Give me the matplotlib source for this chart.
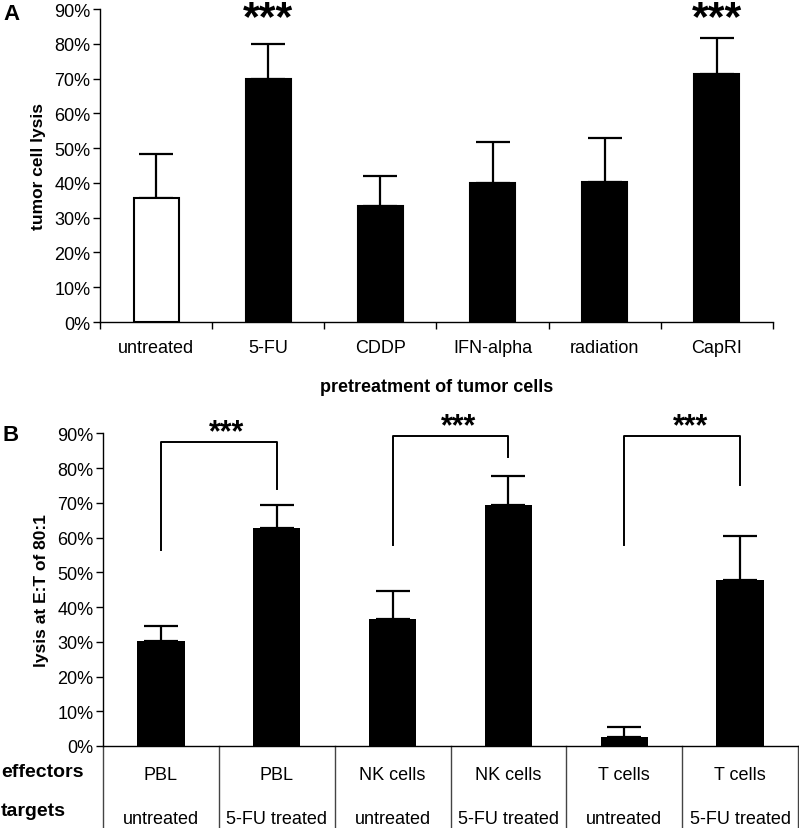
import matplotlib
matplotlib.use('Agg')
import matplotlib.pyplot as plt
import numpy as np

plt.rcParams['font.family'] = ['Liberation Sans', 'DejaVu Sans']

# panel A data
a_labels = ['untreated', '5-FU', 'CDDP', 'IFN-alpha', 'radiation', 'CapRI']
a_vals = [0.357, 0.698, 0.334, 0.399, 0.402, 0.713]
a_err = [0.127, 0.102, 0.086, 0.119, 0.127, 0.105]
a_colors = ['white', 'black', 'black', 'black', 'black', 'black']
a_sig = [1, 5]

# panel B data
b_effectors = ['PBL', 'PBL', 'NK cells', 'NK cells', 'T cells', 'T cells']
b_targets = ['untreated', '5-FU treated', 'untreated', '5-FU treated', 'untreated', '5-FU treated']
b_vals = [0.301, 0.626, 0.365, 0.694, 0.026, 0.478]
b_err = [0.043, 0.068, 0.082, 0.083, 0.028, 0.127]
# brackets: (left idx, right idx, top, left leg end, right leg end)
b_brackets = [(0, 1, 0.876, 0.564, 0.74), (2, 3, 0.891, 0.579, 0.832), (4, 5, 0.891, 0.579, 0.751)]

W, H = 799, 829
fig = plt.figure(figsize=(W / 100, H / 100), dpi=100)

pct = ['0%', '10%', '20%', '30%', '40%', '50%', '60%', '70%', '80%', '90%']
yt = np.arange(0, 0.91, 0.1)

# ---------- A ----------
axA = fig.add_axes([100 / W, 1 - 323 / H, 673 / W, 313 / H])
x = np.arange(len(a_labels))
axA.bar(x, a_vals, width=0.4, color=a_colors, edgecolor='black', linewidth=1.5, zorder=2)
axA.errorbar(x, a_vals, yerr=[np.zeros(len(x)), a_err], fmt='none', ecolor='black',
             elinewidth=1.6, capsize=12, capthick=1.6, zorder=1)
for i in a_sig:
    axA.text(i, 0.875, '***', ha='center', va='center', fontsize=31, fontweight='bold')
axA.set_xlim(-0.5, 5.5)
axA.set_ylim(0, 0.9)
axA.set_yticks(yt)
axA.set_yticklabels(pct, fontsize=13)
axA.set_xticks(np.arange(-0.5, 6, 1))
axA.set_xticklabels([])
axA.set_xticks(x, minor=True)
axA.set_xticklabels(a_labels, minor=True, fontsize=13)
axA.tick_params(axis='x', which='minor', length=0, pad=12)
axA.tick_params(axis='x', which='major', length=5, width=1)
axA.tick_params(axis='y', length=5, width=1, pad=2)
for s in ['top', 'right']:
    axA.spines[s].set_visible(False)
axA.spines['left'].set_linewidth(1)
axA.spines['bottom'].set_linewidth(1)
axA.set_ylabel('tumor cell lysis', fontsize=12.5, fontweight='bold', labelpad=6)
axA.set_xlabel('pretreatment of tumor cells', fontsize=13, fontweight='bold', labelpad=16)

# ---------- B ----------
axB = fig.add_axes([103 / W, 1 - 747 / H, 695 / W, 312.7 / H])
xb = np.arange(len(b_vals))
axB.bar(xb, b_vals, width=0.41, color='black', zorder=2)
axB.errorbar(xb, b_vals, yerr=[np.zeros(len(xb)), b_err], fmt='none', ecolor='black',
             elinewidth=1.6, capsize=12, capthick=1.6, zorder=1)
for l, r, top, ly, ry in b_brackets:
    axB.plot([l, l, r, r], [ly, top, top, ry], color='black', lw=1.4, clip_on=False)
    axB.text((l + r) / 2 + 0.07, top + 0.028, '***', ha='center', va='center',
             fontsize=22, fontweight='bold', clip_on=False)
axB.set_xlim(-0.5, 5.5)
axB.set_ylim(0, 0.9)
axB.set_yticks(yt)
axB.set_yticklabels(pct, fontsize=13)
axB.set_xticks([])
axB.tick_params(axis='y', length=5, width=1, pad=2)
for s in ['top', 'right']:
    axB.spines[s].set_visible(False)
axB.spines['left'].set_linewidth(1)
axB.spines['bottom'].set_linewidth(1)
axB.set_ylabel('lysis at E:T of 80:1', fontsize=12.5, fontweight='bold', labelpad=6)

# table under panel B
bot = -(829 - 747) / 312.7
for b in np.arange(-0.5, 6, 1):
    axB.plot([b, b], [0, bot], color='#444444', lw=1, clip_on=False)
for i in xb:
    axB.text(i, -26 / 312.7, b_effectors[i], ha='center', va='center', fontsize=13)
    axB.text(i, -65 / 312.7, b_targets[i], ha='center', va='center', fontsize=13)
fig.text(1 / W, 1 - 773 / H, 'effectors', ha='left', va='center', fontsize=14, fontweight='bold')
fig.text(1 / W, 1 - 812 / H, 'targets', ha='left', va='center', fontsize=14, fontweight='bold')

fig.text(3 / W, 1 - 14 / H, 'A', ha='left', va='center', fontsize=16, fontweight='bold')
fig.text(3 / W, 1 - 436 / H, 'B', ha='left', va='center', fontsize=16, fontweight='bold')

fig.savefig('out.png', dpi=100)
